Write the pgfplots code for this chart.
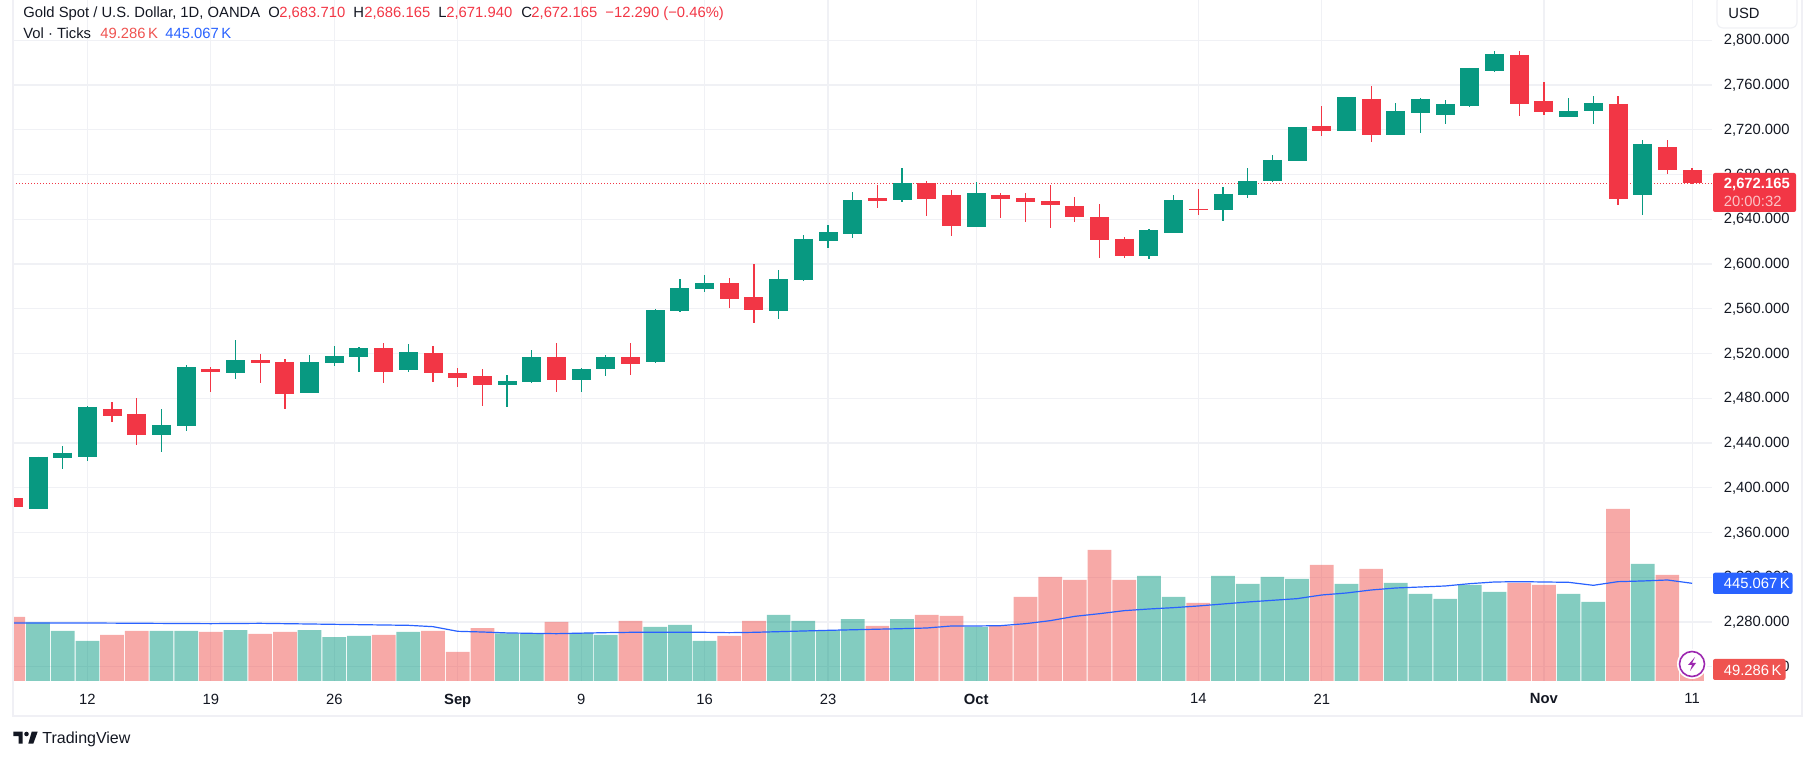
\documentclass[border=0pt]{standalone}
\usepackage{fontspec}
\setmainfont{Liberation Sans}
\usepackage{pgfplots}
\usepackage{pgfplotstable}
\pgfplotsset{compat=1.18}

\definecolor{tvgreen}{HTML}{089981}
\definecolor{tvred}{HTML}{F23645}
\definecolor{volred}{HTML}{EF5350}
\definecolor{tvblue}{HTML}{2962FF}
\definecolor{tvgrid}{HTML}{F0F1F5}
\definecolor{tvframe}{HTML}{F0F0F5}
\definecolor{tvtext}{HTML}{131722}
\definecolor{tvpurple}{HTML}{9C27B0}

% i open high low close vol(K)
\pgfplotstableread{
i o h l c v
-2 2380.7 2427.8 2380.7 2427.8 267.0
-1 2427.0 2437.6 2417.2 2431.4 227.8
0 2427.8 2473.2 2424.3 2472.3 182.2
3 2447.4 2470.5 2432.3 2456.3 227.8
4 2455.4 2509.6 2451.0 2507.8 227.8
6 2502.5 2532.0 2497.2 2514.1 232.3
9 2484.7 2518.5 2484.7 2512.3 232.3
10 2511.4 2526.5 2508.7 2517.6 200.4
11 2516.7 2525.6 2503.4 2524.7 205.0
13 2505.2 2528.3 2503.4 2521.2 223.2
17 2491.9 2500.7 2472.3 2495.4 217.0
18 2494.5 2523.0 2493.6 2516.7 214.1
20 2496.3 2507.0 2485.6 2506.1 218.7
21 2506.1 2518.6 2499.9 2516.8 209.6
23 2512.4 2559.8 2511.5 2558.9 246.0
24 2558.0 2586.6 2557.1 2578.5 255.1
25 2577.6 2590.2 2575.0 2583.0 182.2
28 2558.0 2594.6 2550.8 2586.6 300.7
29 2585.7 2625.9 2584.8 2622.4 273.3
30 2620.6 2634.9 2614.3 2628.6 232.3
31 2626.8 2664.4 2623.3 2657.2 282.4
33 2657.2 2685.8 2655.4 2672.4 282.4
36 2633.1 2673.3 2633.1 2663.5 246.0
43 2607.2 2631.3 2604.5 2630.4 478.3
44 2627.7 2661.7 2627.7 2657.2 382.7
46 2648.3 2668.9 2638.5 2662.6 478.3
47 2661.7 2685.8 2659.0 2674.2 441.9
48 2674.2 2697.5 2673.3 2693.0 473.8
49 2692.1 2722.5 2692.1 2722.5 464.7
51 2718.9 2749.3 2718.9 2749.3 441.9
53 2715.4 2744.0 2715.4 2736.8 446.4
54 2735.0 2748.4 2717.1 2747.6 396.3
55 2733.2 2746.7 2725.2 2743.1 373.6
56 2741.3 2775.3 2740.4 2775.3 437.3
57 2772.6 2790.5 2771.7 2787.8 405.4
60 2731.4 2748.4 2731.4 2736.8 396.3
61 2736.8 2750.2 2725.2 2744.0 359.9
63 2661.7 2710.9 2643.8 2707.3 533.0
}\updays

\pgfplotstableread{
i o h l c v
-3 2390.5 2407.4 2379.9 2382.5 291.6
1 2470.5 2476.7 2459.0 2464.3 209.6
2 2466.1 2480.3 2438.5 2447.4 227.8
5 2506.1 2507.8 2485.6 2503.4 223.2
7 2514.1 2519.4 2493.6 2511.4 214.1
8 2512.3 2515.0 2470.5 2483.8 223.2
12 2524.7 2529.2 2493.6 2503.4 209.6
14 2520.3 2526.5 2494.5 2502.5 227.8
15 2502.5 2507.0 2490.1 2498.1 132.1
16 2499.8 2506.1 2473.2 2491.9 241.4
19 2516.7 2529.2 2485.6 2496.3 268.8
22 2516.8 2529.4 2500.8 2510.6 273.3
26 2583.0 2587.5 2560.7 2568.7 205.0
27 2570.5 2600.0 2547.2 2558.9 273.3
32 2659.0 2670.6 2650.1 2656.3 250.6
34 2672.4 2674.2 2642.9 2658.1 300.7
35 2661.7 2666.2 2625.0 2634.0 296.1
37 2661.7 2663.5 2641.1 2658.1 250.6
38 2659.0 2663.5 2637.6 2655.4 382.7
39 2656.3 2670.6 2632.2 2652.8 473.8
40 2651.9 2659.9 2637.6 2642.0 460.1
41 2642.0 2653.7 2605.4 2621.5 596.8
42 2622.4 2624.2 2605.4 2607.2 460.1
45 2649.2 2667.1 2643.8 2648.3 355.3
50 2723.4 2741.3 2714.5 2718.9 528.4
52 2747.6 2759.2 2709.1 2715.4 510.2
58 2786.9 2790.5 2732.3 2743.1 446.4
59 2745.8 2762.7 2733.2 2735.9 437.3
62 2743.1 2750.2 2652.8 2658.1 783.5
64 2704.6 2710.9 2680.5 2684.1 482.9
65 2683.71 2686.165 2671.94 2672.165 49.286
}\downdays

% volume moving average, K
\pgfplotstableread{
i ma
-3 264.2
0 264.2
2 263.0
5 261.2
7 262.7
10 258.1
13 253.6
14 247.5
15 226.3
16 223.2
17 219.0
18 217.1
19 215.6
21 220.2
22 221.7
25 221.7
26 220.2
27 221.7
30 230.8
33 238.4
34 241.4
35 250.6
36 250.6
37 252.1
38 261.2
39 274.8
40 294.6
41 306.7
42 320.4
43 328.0
44 334.1
45 341.7
46 350.8
47 359.9
48 367.5
49 375.1
50 391.8
51 400.9
52 414.5
53 423.7
54 428.2
55 432.8
56 443.4
57 451.0
58 452.5
59 451.0
60 449.5
61 435.8
62 452.5
63 455.6
64 460.1
65 445.067
}\volma

\pgfplotsset{
  chartbase/.style={
    scale only axis, width=849.4pt, height=340.5pt,
    at={(0,0)}, anchor=south west,
    xmin=-3.014, xmax=65.8,
  },
  body/.style={draw=none, no markers, forget plot,
    error bars/.cd, y dir=both, y explicit, error mark=none,
    error bar style={line width=9.5pt, color=#1, line cap=butt}},
  wick/.style={draw=none, no markers, forget plot,
    error bars/.cd, y dir=both, y explicit, error mark=none,
    error bar style={line width=0.6pt, color=#1, line cap=butt}},
}
\newcommand{\txt}[1]{\fontsize{#1}{#1}\selectfont}

\begin{document}
\begin{tikzpicture}[every node/.style={inner sep=0pt}]
\useasboundingbox (-6.5pt,340.5pt) rectangle (901pt,-39.5pt);

\begin{axis}[chartbase,
    axis line style={draw=none},
    ymin=2227.3, ymax=2836,
    major tick length=0pt,
    grid=major,
    grid style={color=tvgrid, line width=0.55pt},
    xtick={0,5,10,15,20,25,30,36,45,50,59,65},
    xticklabels={12,19,26,\textbf{Sep},9,16,23,\textbf{Oct},14,21,\textbf{Nov},11},
    xticklabel style={anchor=north, yshift=-6.2pt, font=\txt{7.4}, color=tvtext},
    ytick={2240,2280,2320,2360,2400,2440,2480,2520,2560,2600,2640,2680,2720,2760,2800},
    yticklabel pos=right,
    yticklabel style={anchor=west, xshift=5.8pt, yshift=-0.2pt, font=\txt{7.4}, color=tvtext,
      /pgf/number format/.cd, fixed, fixed zerofill, precision=3, 1000 sep={,}, assume math mode=true},
]
\addplot[color=tvred, line width=0.5pt, dash pattern=on 0.5pt off 1pt, forget plot]
  coordinates {(-3.014,2672.165)(65.8,2672.165)};
\addplot[wick=tvgreen] table[x=i, y=c, y error plus expr=\thisrow{h}-\thisrow{c}, y error minus expr=\thisrow{c}-\thisrow{l}] {\updays};
\addplot[wick=tvred] table[x=i, y=c, y error plus expr=\thisrow{h}-\thisrow{c}, y error minus expr=\thisrow{c}-\thisrow{l}] {\downdays};
\addplot[body=tvgreen] table[x=i, y=c, y error plus expr=0, y error minus expr=\thisrow{c}-\thisrow{o}] {\updays};
\addplot[body=tvred] table[x=i, y=o, y error plus expr=0, y error minus expr=\thisrow{o}-\thisrow{c}] {\downdays};
\end{axis}

\begin{axis}[chartbase,
    axis lines=none,
    ymin=0, ymax=3102,
]
\addplot[ybar, bar width=11.85pt, bar shift=0pt, draw=none, fill=tvgreen, fill opacity=0.5, forget plot]
  table[x=i, y=v] {\updays};
\addplot[ybar, bar width=11.85pt, bar shift=0pt, draw=none, fill=volred, fill opacity=0.5, forget plot]
  table[x=i, y=v] {\downdays};
\addplot[color=tvblue, line width=0.6pt, forget plot] table[x=i, y=ma] {\volma};
\end{axis}

\begin{scope}[x=0.5pt,y=-0.5pt,shift={(-13,-681)},
    lab/.style={anchor=base west, font=\txt{7.4}, color=#1}]
  % frame
  \draw[tvframe, line width=1.1pt] (13,0) -- (13,716) -- (1802,716) -- (1802,0);
  % currency box
  \fill[white] (1712,0) rectangle (1801,28);
  \draw[tvgrid, line width=0.6pt, rounded corners=3pt, fill=white] (1717,-5) rectangle (1797,28);
  \node[lab=tvtext] at (1728,18.3) {USD};
  % price tag
  \fill[tvred, rounded corners=1pt] (1713,173) rectangle (1796,212);
  \node[lab=white, font=\txt{7.4}\bfseries] at (1723.5,188.3) {2,672.165};
  \node[lab=white, opacity=0.7] at (1723.5,206.7) {20:00:32};
  % volume tags
  \fill[tvblue, rounded corners=1pt] (1713,572.7) rectangle (1792.5,594);
  \node[lab=white] at (1723.5,589) {445.067\,K};
  \fill[volred, rounded corners=1pt] (1713,659) rectangle (1785.5,680);
  \node[lab=white] at (1723.5,675.3) {49.286\,K};
  % bolt badge
  \fill[white] (1692,664) circle (15);
  \draw[tvpurple, line width=0.8pt] (1692,664) circle (12.5);
  \fill[tvpurple] (1695,657) -- (1688,665) -- (1692,665) -- (1690,671) -- (1696,663) -- (1692,663) -- cycle;
  % legend lines
  \node[lab=tvtext] at (23,17.3) {Gold Spot / U.S. Dollar, 1D, OANDA};
  \node[lab=tvtext] at (268,17.3) {O};
  \node[lab=tvred] at (279,17.3) {2,683.710};
  \node[lab=tvtext] at (353,17.3) {H};
  \node[lab=tvred] at (364,17.3) {2,686.165};
  \node[lab=tvtext] at (438,17.3) {L};
  \node[lab=tvred] at (446,17.3) {2,671.940};
  \node[lab=tvtext] at (521,17.3) {C};
  \node[lab=tvred] at (531,17.3) {2,672.165};
  \node[lab=tvred] at (605,17.3) {−12.290 (−0.46\%)};
  \node[lab=tvtext] at (23,38.5) {Vol · Ticks};
  \node[lab=volred] at (100,38.5) {49.286\,K};
  \node[lab=tvblue] at (165,38.5) {445.067\,K};
  % logo
  \fill[tvtext] (13.3,731.7) -- (22.7,731.7) -- (22.7,743.7) -- (18.7,743.7) -- (18.7,736) -- (13.3,736) -- cycle;
  \fill[tvtext] (26.5,734) circle (2.3);
  \fill[tvtext] (31.7,731.7) -- (37.7,731.7) -- (33.3,743.7) -- (28.3,743.7) -- cycle;
  \node[lab=tvtext, font=\txt{8.0}] at (42,743.7) {TradingView};
\end{scope}
\end{tikzpicture}
\end{document}
